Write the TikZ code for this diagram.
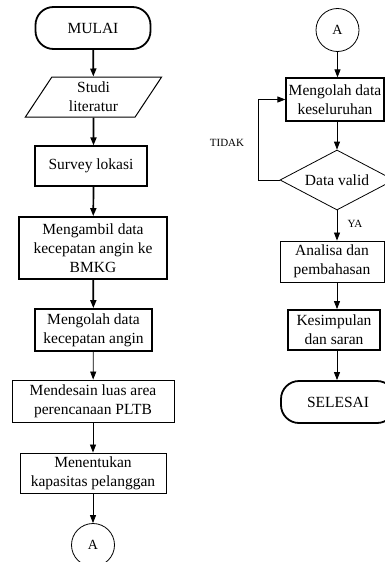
\documentclass[tikz,border=0pt]{standalone}
\usepackage{fontspec}
\setmainfont{Liberation Serif}
\usetikzlibrary{positioning, shapes.geometric, arrows.meta}

\begin{document}
\begin{tikzpicture}[x=1pt, y=-1pt,
    font=\fontsize{15.5}{19}\selectfont,
    box/.style={draw, line width=0.9pt, align=center, inner sep=1pt},
    boxthick/.style={box, line width=1.8pt},
    term/.style={boxthick, rounded corners=18pt},
    io/.style={draw, trapezium, trapezium left angle=63, trapezium right angle=117,
        trapezium stretches=true, line width=1pt, align=center, inner sep=1pt},
    con/.style={draw, circle, line width=0.8pt, minimum size=43pt, inner sep=0pt,
        font=\fontsize{14}{16}\selectfont},
    dec/.style={draw, diamond, aspect=2, line width=0.8pt, minimum width=114pt,
        minimum height=60pt, inner sep=0pt},
    arr/.style={-{Triangle[length=8pt, width=6pt]}, line width=0.8pt},
    arrthick/.style={arr, line width=1.7pt},
    lbl/.style={font=\fontsize{11}{13}\selectfont}
]
    \useasboundingbox (0,0) rectangle (385,562);

    % kolom kiri
    \node[term, minimum width=115pt, minimum height=42pt] (mulai) at (93,28) {MULAI};
    \node[io, minimum width=137pt, minimum height=40pt] (studi) at (93.5,97) {Studi\\literatur};
    \node[box, line width=1.2pt, minimum width=112pt, minimum height=40pt] (survey) at (91,166) {Survey lokasi};
    \node[boxthick, minimum width=148pt, minimum height=62pt] (ambil) at (93,248) {Mengambil data\\kecepatan angin ke\\BMKG};
    \node[boxthick, minimum width=117pt, minimum height=42pt] (olahangin) at (93.5,330) {Mengolah data\\kecepatan angin};
    \node[box, minimum width=162pt, minimum height=42pt] (desain) at (93,401) {Mendesain luas area\\perencanaan PLTB};
    \node[box, minimum width=146pt, minimum height=40pt] (tentukan) at (93,473) {Menentukan\\kapasitas pelanggan};
    \node[con] (konA) at (93,545) {A};

    \draw[arrthick] (mulai) -- (studi);
    \draw[arrthick] (studi) -- (studi |- survey.north);
    \draw[arrthick] (studi |- survey.south) -- (ambil);
    \draw[arrthick] (ambil) -- (olahangin);
    \draw[arr] (olahangin) -- (desain);
    \draw[arr] (desain) -- (tentukan);
    \draw[arr] (tentukan) -- (konA);

    % kolom kanan
    \node[con] (konB) at (337.5,30) {A};
    \node[box, line width=1.2pt, minimum width=98pt, minimum height=43pt] (olahsemua) at (335,99.5) {Mengolah data\\keseluruhan};
    \node[dec] (valid) at (337,180) {Data valid};
    \node[box, minimum width=104pt, minimum height=41pt] (analisa) at (332,261.5) {Analisa dan\\pembahasan};
    \node[boxthick, minimum width=92pt, minimum height=40pt] (simpulan) at (334,330) {Kesimpulan\\dan saran};
    \node[term, minimum width=114pt, minimum height=42pt] (selesai) at (338,402) {SELESAI};

    \draw[arr] (konB) -- (konB |- olahsemua.north);
    \draw[arr] (valid |- olahsemua.south) -- (valid.north);
    \draw[arr] (valid.south) -- (valid.south |- analisa.north);
    \draw[arr] (valid |- analisa.south) -- (valid |- simpulan.north);
    \draw[arr] (valid |- simpulan.south) -- (valid |- selesai.north);
    \draw[arr] (valid.west) -- ++(-21,0) |- (olahsemua.west);

    \node[lbl] (tidak) at (227,143) {TIDAK};
    \node[lbl] (ya) at (355,224) {YA};
\end{tikzpicture}
\end{document}
